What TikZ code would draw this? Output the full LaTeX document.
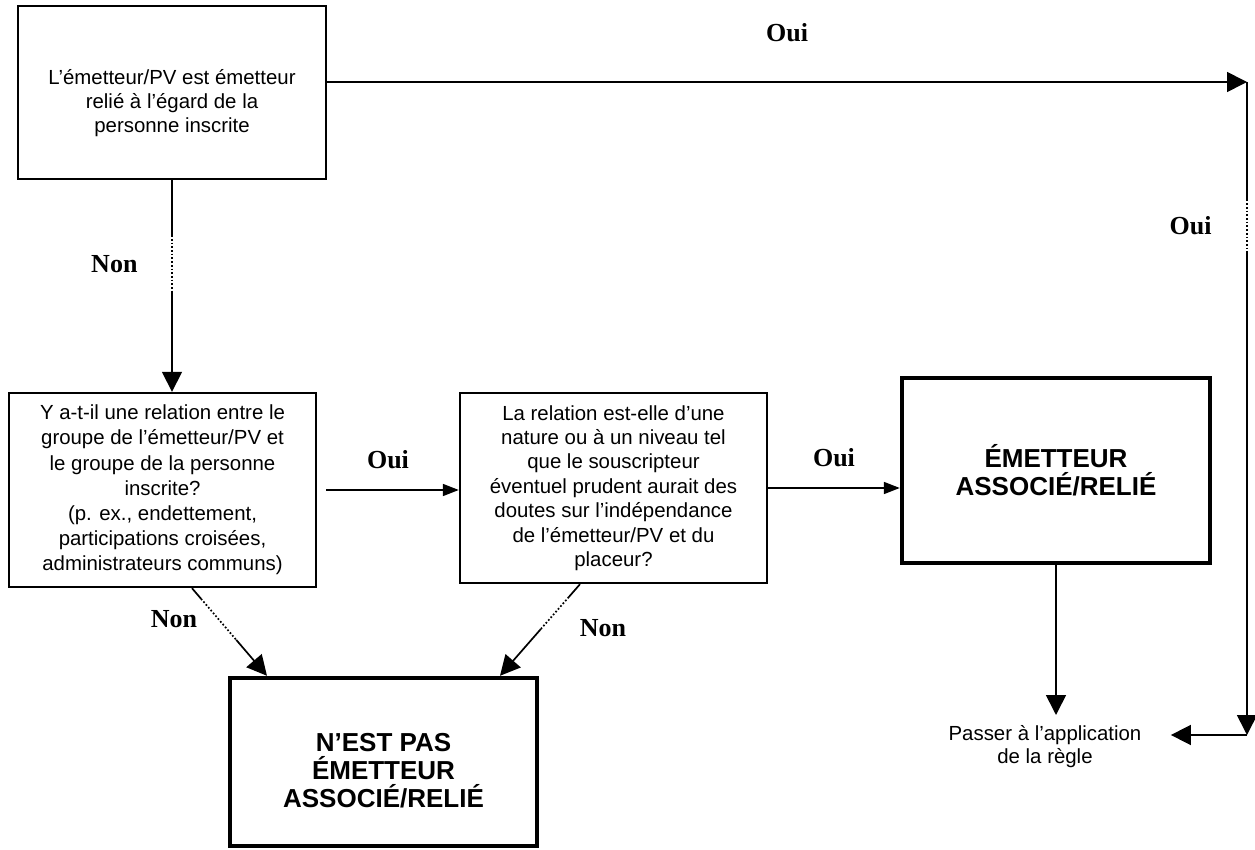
\documentclass[tikz,border=0pt]{standalone}
\usepackage{fontspec}
\setmainfont{Liberation Sans}
\newfontfamily\labfont{Liberation Serif}
\usetikzlibrary{arrows.meta,calc}

\begin{document}
\begin{tikzpicture}[x=0.5pt,y=-0.5pt,line width=0.85pt,
    box/.style={draw,line width=1.2pt,align=center,inner sep=0pt,font=\fontsize{10.2}{12.2}\selectfont},
    bigbox/.style={draw,line width=2.2pt,align=center,inner sep=0pt,font=\bfseries\fontsize{13}{14}\selectfont},
    lab/.style={font=\labfont\bfseries\fontsize{13}{15}\selectfont},
    big/.style={-{Triangle[length=10pt,width=10pt]}},
    small/.style={-{Triangle[length=8pt,width=6pt]}}]
    \useasboundingbox (0,0) rectangle (1255,850);

    % boxes
    \node[box,minimum width=154pt,minimum height=86.5pt] (A) at (172,92.5) {\mbox{}\\[6pt]L’émetteur/PV est émetteur\\relié à l’égard de la\\personne inscrite};
    \node[box,minimum width=153.5pt,minimum height=97pt,font=\fontsize{10.2}{12.6}\selectfont] (B) at (162.5,490) {Y a-t-il une relation entre le\\groupe de l’émetteur/PV et\\le groupe de la personne\\inscrite?\\(p. ex., endettement,\\participations croisées,\\administrateurs communs)};
    \node[box,minimum width=153.5pt,minimum height=95pt] (C) at (613.5,488) {La relation est-elle d’une\\nature ou à un niveau tel\\que le souscripteur\\éventuel prudent aurait des\\doutes sur l’indépendance\\de l’émetteur/PV et du\\placeur?};
    \node[bigbox,minimum width=154pt,minimum height=92.5pt] (D) at (1056,470.5) {ÉMETTEUR\\ASSOCIÉ/RELIÉ};
    \node[bigbox,minimum width=153.5pt,minimum height=84pt] (E) at (383.5,762) {\mbox{}\\[4pt]N’EST PAS\\ÉMETTEUR\\ASSOCIÉ/RELIÉ};
    \node[align=center,font=\fontsize{10.2}{11.8}\selectfont] (P) at (1045,746.5) {Passer à l’application\\de la règle};

    \coordinate (tr) at (1247,82);
    \coordinate (br) at (1247,735);

    % Oui: along the top and down the right side
    \draw[big] (A.east |- tr) -- node[lab,above=16.5pt] (oui1) {Oui} (tr);
    \path (tr) -- (br) coordinate[pos=0.18] (r1) coordinate[pos=0.26] (r2);
    \draw (tr) -- (r1);
    \draw[densely dotted] (r1) -- node[lab,left=14pt] (oui2) {Oui} (r2);
    \draw[big] (r2) -- (br);
    \draw[big] (br) -- ($(br -| P.east)+(22,0)$);

    % Non: A to B
    \path (A.south) -- (A.south |- B.north) coordinate[pos=0.26] (v1) coordinate[pos=0.53] (v2);
    \draw (A.south) -- (v1);
    \draw[densely dotted] (v1) -- node[lab,left=13.5pt] (non1) {Non} (v2);
    \draw[big] (v2) -- (A.south |- B.north);

    % Oui: B to C to D
    \draw[small,shorten <=4.5pt] (B.east) -- node[lab,above=7pt] (oui3) {Oui} (B.east -| C.west);
    \draw[small] (C.east) -- node[lab,above=7pt] (oui4) {Oui} (C.east -| D.west);

    % Non: B and C to E
    \path ([xshift=14.75pt]B.south) -- ([xshift=-58.25pt]E.north) coordinate[pos=0.12] (b1) coordinate[pos=0.59] (b2);
    \draw ([xshift=14.75pt]B.south) -- (b1);
    \draw[densely dotted] (b1) -- node[lab,left=7pt] (non2) {Non} (b2);
    \draw[big] (b2) -- ([xshift=-58.25pt]E.north);
    \path ([xshift=-16.75pt]C.south) -- ([xshift=58.25pt]E.north) coordinate[pos=0.14] (c1) coordinate[pos=0.49] (c2);
    \draw ([xshift=-16.75pt]C.south) -- (c1);
    \draw[densely dotted] (c1) -- (c2);
    \draw[big] (c2) -- ([xshift=58.25pt]E.north);
    \node[lab] (non3) at (603,628) {Non};

    % D to the rule
    \draw[big] (D.south) -- (D.south |- 0,715);
\end{tikzpicture}
\end{document}
